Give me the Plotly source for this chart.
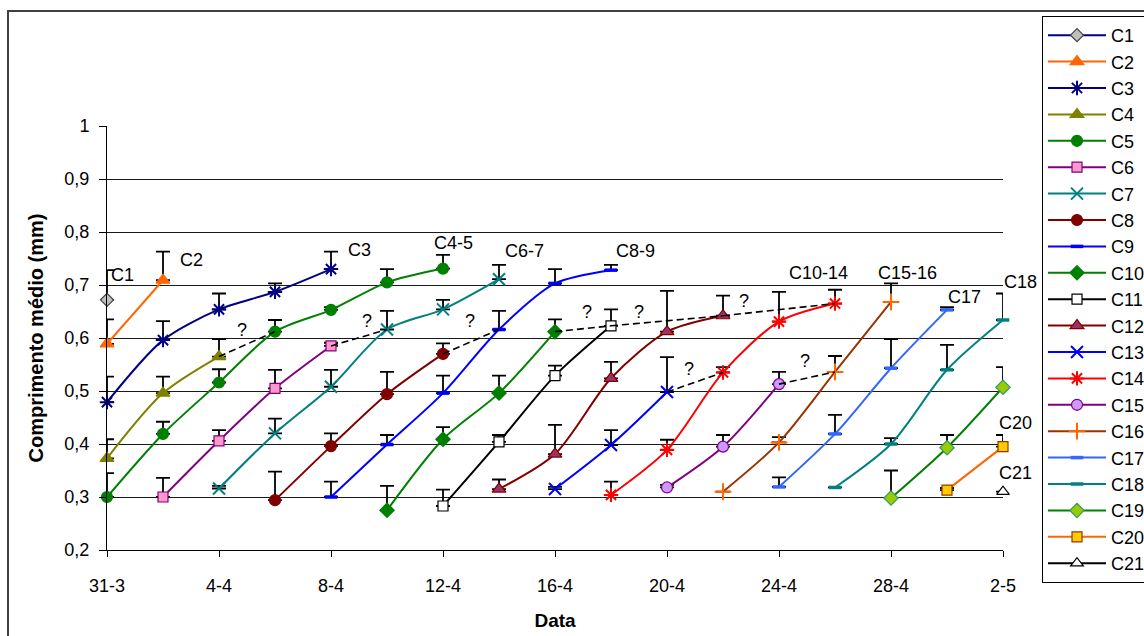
import plotly.graph_objects as go

# Dias de amostragem (0 = 31-3) e rótulos do eixo X
rotulos_data = ["31-3", "4-4", "8-4", "12-4", "16-4", "20-4", "24-4", "28-4", "2-5"]
ticks_data = [0, 4, 8, 12, 16, 20, 24, 28, 32]

ticks_comp = [0.2, 0.3, 0.4, 0.5, 0.6, 0.7, 0.8, 0.9, 1.0]
rotulos_comp = ["0,2", "0,3", "0,4", "0,5", "0,6", "0,7", "0,8", "0,9", "1"]

coortes = ["C1", "C2", "C3", "C4", "C5", "C6", "C7", "C8", "C9", "C10", "C11",
           "C12", "C13", "C14", "C15", "C16", "C17", "C18", "C19", "C20", "C21"]

# primeiro dia de amostragem de cada coorte (amostras de 2 em 2 dias)
dia_inicial = {
    "C1": 0, "C2": 0, "C3": 0, "C4": 0, "C5": 0, "C6": 2, "C7": 4, "C8": 6,
    "C9": 8, "C10": 10, "C11": 12, "C12": 14, "C13": 16, "C14": 18, "C15": 20,
    "C16": 22, "C17": 24, "C18": 26, "C19": 28, "C20": 30, "C21": 32,
}

# comprimento médio (mm)
media = {
    "C1": [0.672],
    "C2": [0.589, 0.709],
    "C3": [0.479, 0.596, 0.654, 0.687, 0.730],
    "C4": [0.373, 0.496, 0.565],
    "C5": [0.300, 0.419, 0.516, 0.612, 0.653, 0.705, 0.731],
    "C6": [0.300, 0.406, 0.505, 0.585],
    "C7": [0.316, 0.420, 0.508, 0.616, 0.654, 0.711],
    "C8": [0.294, 0.396, 0.494, 0.570],
    "C9": [0.300, 0.399, 0.496, 0.616, 0.703, 0.728],
    "C10": [0.275, 0.409, 0.496, 0.612],
    "C11": [0.283, 0.404, 0.529, 0.623],
    "C12": [0.315, 0.381, 0.524, 0.612, 0.642],
    "C13": [0.315, 0.398, 0.498],
    "C14": [0.304, 0.389, 0.535, 0.631, 0.665],
    "C15": [0.318, 0.395, 0.513],
    "C16": [0.310, 0.403, 0.536, 0.668],
    "C17": [0.319, 0.419, 0.543, 0.653],
    "C18": [0.318, 0.400, 0.540, 0.634],
    "C19": [0.298, 0.393, 0.507],
    "C20": [0.313, 0.395],
    "C21": [0.310],
}

# desvio (apenas para cima)
desvio = {
    "C1": [0.056],
    "C2": [0.046, 0.054],
    "C3": [0.048, 0.036, 0.030, 0.016, 0.033],
    "C4": [0.036, 0.031, 0.033],
    "C5": [0.045, 0.023, 0.025, 0.022, 0.005, 0.025, 0.026],
    "C6": [0.036, 0.020, 0.035, 0.006],
    "C7": [0.005, 0.028, 0.032, 0.035, 0.018, 0.027],
    "C8": [0.054, 0.024, 0.042, 0.020],
    "C9": [0.029, 0.018, 0.033, 0.035, 0.027, 0.010],
    "C10": [0.046, 0.023, 0.033, 0.023],
    "C11": [0.031, 0.013, 0.019, 0.031],
    "C12": [0.018, 0.055, 0.031, 0.077, 0.038],
    "C13": [0.004, 0.028, 0.066],
    "C14": [0.025, 0.019, 0.010, 0.056, 0.026],
    "C15": [0.005, 0.022, 0.023],
    "C16": [None, 0.010, 0.030, 0.035],
    "C17": [0.018, 0.036, 0.055, 0.005],
    "C18": [None, 0.011, 0.047, 0.050],
    "C19": [0.052, 0.024, 0.038],
    "C20": [0.004, 0.022],
    "C21": [None],
}

# ligações incertas entre coortes (coorte, dia) -> (coorte, dia)
ligacoes = [
    ("C4", 4, "C5", 6),
    ("C6", 8, "C7", 10),
    ("C8", 12, "C9", 14),
    ("C10", 16, "C11", 18),
    ("C11", 18, "C12", 22),
    ("C12", 22, "C14", 26),
    ("C13", 20, "C14", 22),
    ("C15", 24, "C16", 26),
]

# estilo de cada coorte: (cor da linha, símbolo, cor de preenchimento, cor do contorno, tamanho)
estilo = {
    "C1": ("#000080", "diamond", "#C0C0C0", "#404040", 10),
    "C2": ("#FF6600", "triangle-up", "#FF6600", "#FF6600", 12),
    "C3": ("#000080", "asterisk-open", "#000080", "#000080", 12),
    "C4": ("#808000", "triangle-up", "#808000", "#808000", 12),
    "C5": ("#008000", "circle", "#008000", "#008000", 11),
    "C6": ("#800080", "square", "#FF99CC", "#800080", 10),
    "C7": ("#008080", "x-thin-open", "#008080", "#008080", 12),
    "C8": ("#800000", "circle", "#800000", "#800000", 11),
    "C9": ("#0000FF", "line-ew-open", "#0000FF", "#0000FF", 9),
    "C10": ("#008000", "diamond", "#008000", "#008000", 11),
    "C11": ("#000000", "square", "#FFFFFF", "#000000", 10),
    "C12": ("#800000", "triangle-up", "#993366", "#800000", 12),
    "C13": ("#0000FF", "x-thin-open", "#0000FF", "#0000FF", 12),
    "C14": ("#FF0000", "asterisk-open", "#FF0000", "#FF0000", 12),
    "C15": ("#800080", "circle", "#CC99FF", "#800080", 11),
    "C16": ("#993300", "cross-thin-open", "#FF6600", "#FF6600", 12),
    "C17": ("#3366FF", "line-ew-open", "#3366FF", "#3366FF", 9),
    "C18": ("#008080", "line-ew-open", "#008080", "#008080", 9),
    "C19": ("#008000", "diamond", "#99CC00", "#339966", 11),
    "C20": ("#FF6600", "square", "#FFCC00", "#993300", 10),
    "C21": ("#000000", "triangle-up", "#FFFFFF", "#000000", 11),
}

# rótulos de grupos sobre o gráfico: (texto, dia, comprimento, âncora)
rotulos_grupo = [
    ("C1", 0.56, 0.719, "center"),
    ("C2", 3.03, 0.748, "center"),
    ("C3", 9.0, 0.766, "center"),
    ("C4-5", 12.37, 0.779, "center"),
    ("C6-7", 14.9, 0.765, "center"),
    ("C8-9", 18.86, 0.765, "center"),
    ("C10-14", 25.4, 0.722, "center"),
    ("C15-16", 28.6, 0.723, "center"),
    ("C17", 30.64, 0.678, "center"),
    ("C18", 31.96, 0.706, "left"),
    ("C19", 32.07, 0.666, "left"),
    ("C20", 31.8, 0.440, "left"),
    ("C21", 31.8, 0.345, "left"),
]

interrogacoes = [
    (4.81, 0.615), (9.3, 0.633), (12.96, 0.633), (17.15, 0.650),
    (19.0, 0.650), (22.76, 0.670), (20.8, 0.541), (24.94, 0.557),
]


def dias_de(c):
    return [dia_inicial[c] + 2 * i for i in range(len(media[c]))]


def valor_em(c, dia):
    return media[c][(dia - dia_inicial[c]) // 2]


fig = go.Figure()

for c in coortes:
    cor_linha, simbolo, preench, contorno, tam = estilo[c]
    aberto = simbolo.endswith("-open")
    fig.add_trace(go.Scatter(
        x=dias_de(c),
        y=media[c],
        name=c,
        legendgroup=c,
        mode="lines+markers",
        cliponaxis=False,
        line=dict(color=cor_linha, width=2, shape="spline", smoothing=0.8),
        marker=dict(
            symbol=simbolo,
            size=tam,
            color=preench,
            line=dict(color=contorno, width=3.5 if simbolo == "line-ew-open" else (2 if aberto else 1.2)),
        ),
        error_y=dict(
            type="data",
            symmetric=False,
            array=desvio[c],
            arrayminus=[0] * len(desvio[c]),
            color="#000000",
            thickness=1.8,
            width=7,
        ),
    ))

for c_a, d_a, c_b, d_b in ligacoes:
    fig.add_trace(go.Scatter(
        x=[d_a, d_b],
        y=[valor_em(c_a, d_a), valor_em(c_b, d_b)],
        mode="lines",
        showlegend=False,
        hoverinfo="skip",
        line=dict(color="#000000", width=1.6, dash="7px,4px"),
    ))

anots = []
for texto, xd, yv, anc in rotulos_grupo:
    anots.append(dict(x=xd, y=yv, xref="x", yref="y", text=texto, showarrow=False,
                      xanchor=anc, yanchor="middle", font=dict(size=18, color="#000000")))
for xd, yv in interrogacoes:
    anots.append(dict(x=xd, y=yv, xref="x", yref="y", text="?", showarrow=False,
                      xanchor="center", yanchor="middle", font=dict(size=18, color="#000000")))

L, R, T, B = 107, 141, 126, 86
W, H = 1144, 636
pw, ph = W - L - R, H - T - B


def px_x(p):
    return (p - L) / pw


def px_y(p):
    return (H - B - p) / ph


fig.update_layout(
    width=W,
    height=H,
    margin=dict(l=L, r=R, t=T, b=B, autoexpand=False),
    paper_bgcolor="#FFFFFF",
    plot_bgcolor="#FFFFFF",
    separators=",.",
    font=dict(family="Liberation Sans, Arial, sans-serif", size=18, color="#000000"),
    showlegend=True,
    legend=dict(
        x=px_x(1042), y=px_y(16), xanchor="left", yanchor="top",
        bgcolor="#FFFFFF", bordercolor="#000000", borderwidth=1,
        font=dict(size=18), tracegroupgap=2.3, itemwidth=58,
        traceorder="normal", maxheight=620,
    ),
    annotations=anots,
    shapes=[dict(
        type="rect", xref="paper", yref="paper",
        x0=px_x(8), x1=px_x(1160), y0=px_y(650), y1=px_y(11),
        line=dict(color="#404040", width=2), fillcolor="rgba(0,0,0,0)", layer="below",
    )],
    xaxis=dict(
        range=[0, 32],
        tickmode="array", tickvals=ticks_data, ticktext=rotulos_data,
        ticks="outside", ticklen=6, tickcolor="#000000", tickwidth=1,
        showline=True, linecolor="#000000", linewidth=1,
        showgrid=False, zeroline=False,
        ticklabelstandoff=13,
        tickfont=dict(size=18),
        title=dict(text="<b>Data</b>", font=dict(size=19), standoff=19),
    ),
    yaxis=dict(
        range=[0.2, 1.0],
        tickmode="array", tickvals=ticks_comp, ticktext=rotulos_comp,
        ticks="outside", ticklen=7, tickcolor="#000000", tickwidth=1,
        showline=True, linecolor="#000000", linewidth=1,
        showgrid=True, gridcolor="#1a1a1a", gridwidth=1, zeroline=False,
        ticklabelstandoff=6,
        tickfont=dict(size=18),
        title=dict(text="<b>Comprimento médio (mm)</b>", font=dict(size=20), standoff=15),
    ),
)

fig.write_html("out.html")
